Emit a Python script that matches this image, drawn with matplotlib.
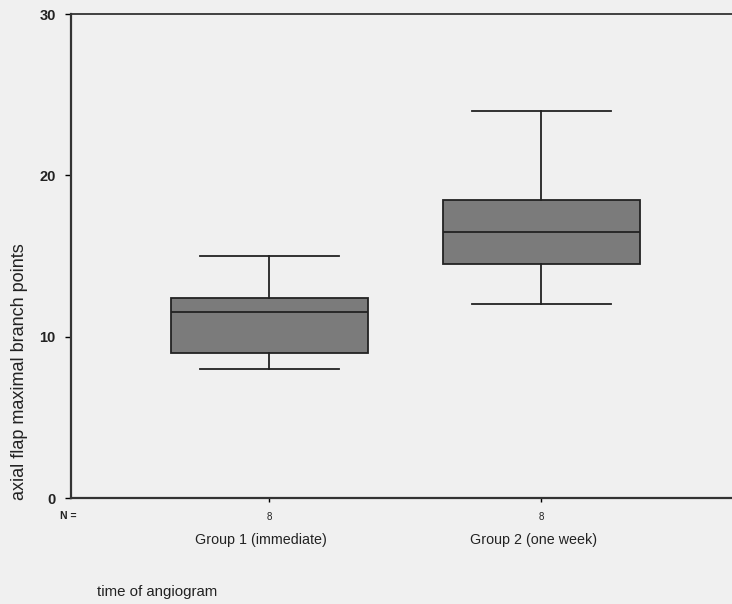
import matplotlib
matplotlib.use("Agg")
import matplotlib.pyplot as plt

plt.rcParams['font.family'] = ['Liberation Sans', 'DejaVu Sans']

groups = ["Group 1 (immediate)", "Group 2 (one week)"]
n_counts = [8, 8]
whislo = [8, 12]
q1 = [9, 14.5]
med = [11.5, 16.5]
q3 = [12.4, 18.5]
whishi = [15, 24]
yticks = [0, 10, 20, 30]

bg = "#f0f0f0"
fig = plt.figure(figsize=(7.32, 6.04), dpi=100, facecolor=bg)
ax = fig.add_axes([71/732, 1-498/604, 1-71/732, (498-14)/604])
ax.set_facecolor(bg)

stats = []
for i in range(len(groups)):
    stats.append(dict(med=med[i], q1=q1[i], q3=q3[i], whislo=whislo[i], whishi=whishi[i],
                      fliers=[], label=str(n_counts[i])))
positions = [1, 2]
ax.bxp(stats, positions=positions, widths=0.724, patch_artist=True, showfliers=False,
       boxprops=dict(facecolor="#7b7b7b", edgecolor="#222222", linewidth=1.3),
       medianprops=dict(color="#222222", linewidth=1.3),
       whiskerprops=dict(color="#222222", linewidth=1.3),
       capprops=dict(color="#222222", linewidth=1.3),
       capwidths=0.51)

ax.set_xlim(0.272, 2.70)
ax.set_ylim(0, 30)
ax.set_yticks(yticks)
ax.set_yticklabels([str(t) for t in yticks], fontsize=10.5, fontweight='bold', color="#222222")
ax.set_xticks(positions)
ax.set_xticklabels([str(n) for n in n_counts], fontsize=7, color="#222222")
ax.tick_params(axis='y', length=4, width=1, direction='out', pad=7)
ax.tick_params(axis='x', length=3, width=1, direction='out', pad=7)
for s in ax.spines.values():
    s.set_color("#333333")
    s.set_linewidth(1.3)
ax.spines['left'].set_linewidth(1.6)
ax.spines['bottom'].set_linewidth(1.6)
ax.spines['right'].set_visible(False)

for p, g in zip(positions, groups):
    ax.text(p - 0.03, -2.6, g, ha='center', va='center', fontsize=10.3, color="#222222",
            transform=ax.transData)
fig.text(60/732, 1-516/604, "N =", ha='left', va='center', fontsize=7.5, color="#222222", fontweight='bold')
fig.text(97/732, 1-592/604, "time of angiogram", ha='left', va='center', fontsize=10.8, color="#222222")
fig.text(20/732, 1-372/604, "axial flap maximal branch points", rotation=90, ha='center', va='center',
         fontsize=13, color="#222222")

fig.savefig("out.png", dpi=100, facecolor=bg)
